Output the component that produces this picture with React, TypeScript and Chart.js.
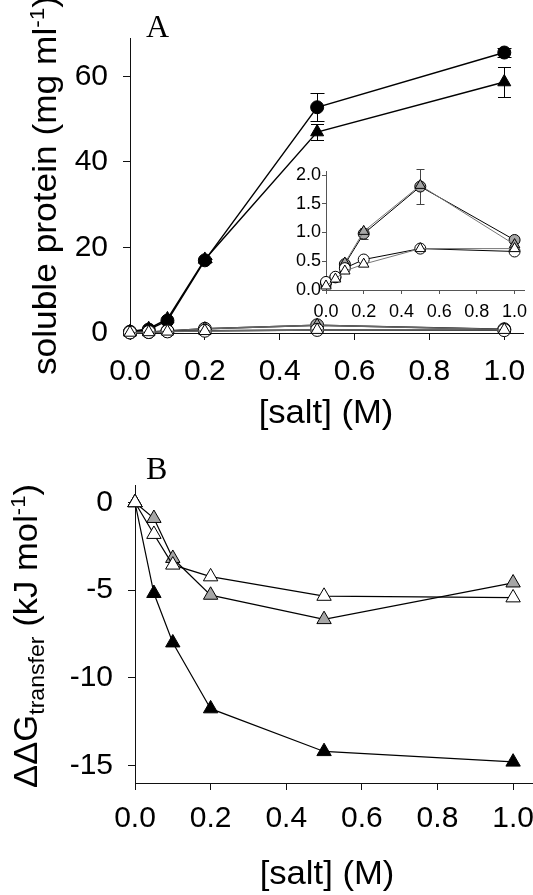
import React, { useEffect, useRef } from "react";
import { Chart, registerables } from "chart.js";

Chart.register(...registerables);

// ---------- data ----------
const salt = [0, 0.05, 0.1, 0.2, 0.5, 1.0];

// Panel A – soluble protein (mg/ml)
const blackCircle = [0.3, 0.8, 2.9, 17.0, 52.8, 65.6];
const blackCircleErr = [0, 0, 0, 0.4, 3.3, 1.0];
const blackTriangle = [0.3, 1.0, 3.3, 17.2, 47.0, 58.7];
const blackTriangleErr = [0, 0, 0, 0.4, 1.8, 3.6];
const grayCircle = [0.12, 0.22, 0.45, 0.98, 1.8, 0.87];
const grayCircleErr = [0, 0, 0.03, 0.1, 0.3, 0.04];
const grayTriangle = [0.1, 0.2, 0.47, 1.02, 1.82, 0.79];
const whiteCircle = [0.14, 0.23, 0.38, 0.53, 0.72, 0.67];
const whiteTriangle = [0.07, 0.19, 0.33, 0.45, 0.72, 0.72];

// Panel B – ΔΔG transfer (kJ/mol)
const ddgBlack = [0, -5.18, -8.0, -11.76, -14.2, -14.8];
const ddgGray = [0, -0.9, -3.18, -5.28, -6.67, -4.58];
const ddgWhite = [0, -1.81, -3.56, -4.23, -5.34, -5.43];

// ---------- styles ----------
const SANS = "'Liberation Sans', Arial, Helvetica, sans-serif";
const SERIF = "'Liberation Serif', 'Times New Roman', serif";
const GRAY = "#a6a6a6";

type Seg = { t: string; size: number; dy: number };

function drawRich(
  ctx: CanvasRenderingContext2D,
  segs: Seg[],
  x: number,
  y: number,
  rotated: boolean,
  stretch: number
) {
  ctx.save();
  ctx.translate(x, y);
  if (rotated) ctx.rotate(-Math.PI / 2);
  ctx.scale(stretch, 1);
  ctx.textBaseline = "alphabetic";
  ctx.textAlign = "left";
  ctx.fillStyle = "#000";
  let total = 0;
  const widths: number[] = [];
  for (const s of segs) {
    ctx.font = `${s.size}px ${SANS}`;
    const w = ctx.measureText(s.t).width;
    widths.push(w);
    total += w;
  }
  let cx = -total / 2;
  segs.forEach((s, i) => {
    ctx.font = `${s.size}px ${SANS}`;
    ctx.fillText(s.t, cx, s.dy);
    cx += widths[i];
  });
  ctx.restore();
}

function drawPlain(ctx: CanvasRenderingContext2D, t: string, x: number, y: number, font: string) {
  ctx.save();
  ctx.font = font;
  ctx.fillStyle = "#000";
  ctx.textAlign = "left";
  ctx.textBaseline = "alphabetic";
  ctx.fillText(t, x, y);
  ctx.restore();
}

type ErrSet = { index: number; errors: number[]; cap: number; color: string };

function errorBarPlugin(id: string, sets: ErrSet[]) {
  return {
    id,
    beforeDatasetsDraw(chart: any) {
      const ctx = chart.ctx as CanvasRenderingContext2D;
      const xs = chart.scales.x;
      const ys = chart.scales.y;
      ctx.save();
      ctx.lineWidth = 1;
      for (const s of sets) {
        const ds = chart.data.datasets[s.index];
        ds.data.forEach((p: any, i: number) => {
          const e = s.errors[i];
          if (!e) return;
          const px = Math.round(xs.getPixelForValue(p.x)) + 0.5;
          const top = Math.round(ys.getPixelForValue(p.y + e)) + 0.5;
          const bot = Math.round(ys.getPixelForValue(p.y - e)) + 0.5;
          ctx.strokeStyle = s.color;
          ctx.beginPath();
          ctx.moveTo(px, top);
          ctx.lineTo(px, bot);
          ctx.moveTo(px - s.cap, top);
          ctx.lineTo(px + s.cap, top);
          ctx.moveTo(px - s.cap, bot);
          ctx.lineTo(px + s.cap, bot);
          ctx.stroke();
        });
      }
      ctx.restore();
    },
  };
}

function pts(vals: number[]) {
  return salt.map((x, i) => ({ x, y: vals[i] }));
}

function series(
  vals: number[],
  style: "circle" | "triangle",
  fillColor: string,
  lineColor: string,
  radius: number,
  lineWidth: number
) {
  return {
    data: pts(vals),
    showLine: true,
    fill: false,
    tension: 0,
    borderColor: lineColor,
    borderWidth: lineWidth,
    pointStyle: style,
    pointRadius: radius,
    pointHoverRadius: radius,
    pointBackgroundColor: fillColor,
    pointBorderColor: "#000",
    pointBorderWidth: 1,
    clip: false as any,
  };
}

function fitter(w: number | null, h: number | null) {
  return (s: any) => {
    if (w !== null) s.width = w;
    if (h !== null) s.height = h;
    s.paddingLeft = 0;
    s.paddingRight = 0;
    s.paddingTop = 0;
    s.paddingBottom = 0;
  };
}

function axis(opts: {
  min: number;
  max: number;
  step: number;
  decimals: number;
  fontSize: number;
  padding: number;
  tickLength: number;
  color: string;
  fit: (s: any) => void;
  position: "left" | "bottom";
}) {
  return {
    type: "linear" as const,
    position: opts.position,
    min: opts.min,
    max: opts.max,
    afterFit: opts.fit,
    border: { display: true, color: opts.color, width: 1 },
    grid: {
      display: true,
      drawOnChartArea: false,
      drawTicks: true,
      tickLength: opts.tickLength,
      color: opts.color,
      lineWidth: 1,
    },
    ticks: {
      stepSize: opts.step,
      includeBounds: false,
      autoSkip: false,
      maxRotation: 0,
      minRotation: 0,
      padding: opts.padding,
      color: "#000",
      font: { family: SANS, size: opts.fontSize },
      callback: (v: any) => Number(v).toFixed(opts.decimals),
    },
  };
}

const baseOptions = {
  animation: false as const,
  responsive: false,
  devicePixelRatio: 1,
  events: [] as any[],
  plugins: {
    legend: { display: false },
    tooltip: { enabled: false },
    title: { display: false },
  },
};

// ---------- chart configs ----------
function configA() {
  const datasets = [
    series(whiteTriangle, "triangle", "#fff", "#666", 7, 1.5),
    series(whiteCircle, "circle", "#fff", "#000", 6.5, 1.5),
    series(grayTriangle, "triangle", GRAY, "#666", 7, 1.5),
    series(grayCircle, "circle", GRAY, "#000", 6.5, 1.5),
    series(blackTriangle, "triangle", "#000", "#000", 7.5, 1.4),
    series(blackCircle, "circle", "#000", "#000", 6.5, 1.4),
  ];
  const labels = {
    id: "labelsA",
    afterDraw(chart: any) {
      const ctx = chart.ctx;
      drawPlain(ctx, "A", 146, 37, `32px ${SERIF}`);
      drawRich(ctx, [{ t: "[salt] (M)", size: 33, dy: 0 }], 326, 423, false, 1.05);
      drawRich(
        ctx,
        [
          { t: "soluble protein (mg ml", size: 33, dy: 0 },
          { t: "-1", size: 21, dy: -12 },
          { t: ")", size: 33, dy: 0 },
        ],
        56,
        185.5,
        true,
        1.07
      );
    },
  };
  return {
    type: "line" as const,
    data: { datasets },
    options: {
      ...baseOptions,
      layout: { autoPadding: false, padding: { top: 38, right: 10, left: 0, bottom: 0 } },
      scales: {
        x: axis({ min: 0, max: 1.05, step: 0.2, decimals: 1, fontSize: 30, padding: 14, tickLength: 7, color: "#111", fit: fitter(null, 117), position: "bottom" }),
        y: axis({ min: 0, max: 69, step: 20, decimals: 0, fontSize: 30, padding: 15, tickLength: 7, color: "#111", fit: fitter(130, null), position: "left" }),
      },
    },
    plugins: [
      errorBarPlugin("errA", [
        { index: 4, errors: blackTriangleErr, cap: 6.5, color: "#000" },
        { index: 5, errors: blackCircleErr, cap: 7, color: "#000" },
      ]),
      labels,
    ],
  };
}

function configInset() {
  const datasets = [
    series(whiteTriangle, "triangle", "#fff", "#777", 6, 1),
    series(whiteCircle, "circle", "#fff", "#000", 5.5, 1),
    series(grayTriangle, "triangle", GRAY, "#777", 6, 1),
    series(grayCircle, "circle", GRAY, "#000", 5.5, 1),
  ];
  return {
    type: "line" as const,
    data: { datasets },
    options: {
      ...baseOptions,
      layout: { autoPadding: false, padding: { top: 21, right: 9, left: 0, bottom: 0 } },
      scales: {
        x: axis({ min: 0, max: 1.05, step: 0.2, decimals: 1, fontSize: 18, padding: 7, tickLength: 4, color: "#555", fit: fitter(null, 40), position: "bottom" }),
        y: axis({ min: 0, max: 2.07, step: 0.5, decimals: 1, fontSize: 18, padding: 1, tickLength: 4, color: "#555", fit: fitter(66, null), position: "left" }),
      },
    },
    plugins: [errorBarPlugin("errInset", [{ index: 3, errors: grayCircleErr, cap: 4, color: "#444" }])],
  };
}

function configB() {
  const TOP = 440;
  const datasets = [
    series(ddgWhite, "triangle", "#fff", "#000", 8.3, 1.2),
    series(ddgGray, "triangle", GRAY, "#000", 8.3, 1.2),
    series(ddgBlack, "triangle", "#000", "#000", 8.3, 1.2),
  ];
  const labels = {
    id: "labelsB",
    afterDraw(chart: any) {
      const ctx = chart.ctx;
      drawPlain(ctx, "B", 146, 478.5 - TOP, `32px ${SERIF}`);
      drawRich(ctx, [{ t: "[salt] (M)", size: 33, dy: 0 }], 327, 884 - TOP, false, 1.05);
      drawRich(
        ctx,
        [
          { t: "\u0394\u0394G", size: 33, dy: 0 },
          { t: "transfer", size: 22, dy: 7 },
          { t: " (kJ mol", size: 33, dy: 0 },
          { t: "-1", size: 21, dy: -12 },
          { t: ")", size: 33, dy: 0 },
        ],
        37,
        636 - TOP,
        true,
        1.05
      );
    },
  };
  return {
    type: "line" as const,
    data: { datasets },
    options: {
      ...baseOptions,
      layout: { autoPadding: false, padding: { top: 45, right: 1, left: 0, bottom: 0 } },
      scales: {
        x: axis({ min: 0, max: 1.05, step: 0.2, decimals: 1, fontSize: 30, padding: 11, tickLength: 7, color: "#111", fit: fitter(null, 112), position: "bottom" }),
        y: axis({ min: -16, max: 1, step: 5, decimals: 0, fontSize: 30, padding: 15, tickLength: 7, color: "#111", fit: fitter(135, null), position: "left" }),
      },
    },
    plugins: [labels],
  };
}

// ---------- components ----------
function ChartCanvas(props: { left: number; top: number; width: number; height: number; make: () => any }) {
  const ref = useRef<HTMLCanvasElement | null>(null);
  useEffect(() => {
    if (!ref.current) return;
    const chart = new Chart(ref.current, props.make());
    return () => chart.destroy();
  }, []);
  return (
    <canvas
      ref={ref}
      width={props.width}
      height={props.height}
      style={{
        position: "absolute",
        left: props.left,
        top: props.top,
        width: props.width,
        height: props.height,
      }}
    />
  );
}

export default function App() {
  return (
    <div
      style={{
        position: "fixed",
        left: 0,
        top: 0,
        width: 533,
        height: 895,
        background: "#fff",
        overflow: "hidden",
      }}
    >
      <ChartCanvas left={0} top={0} width={533} height={450} make={configA} />
      <ChartCanvas left={260} top={150} width={273} height={180} make={configInset} />
      <ChartCanvas left={0} top={440} width={533} height={455} make={configB} />
    </div>
  );
}
